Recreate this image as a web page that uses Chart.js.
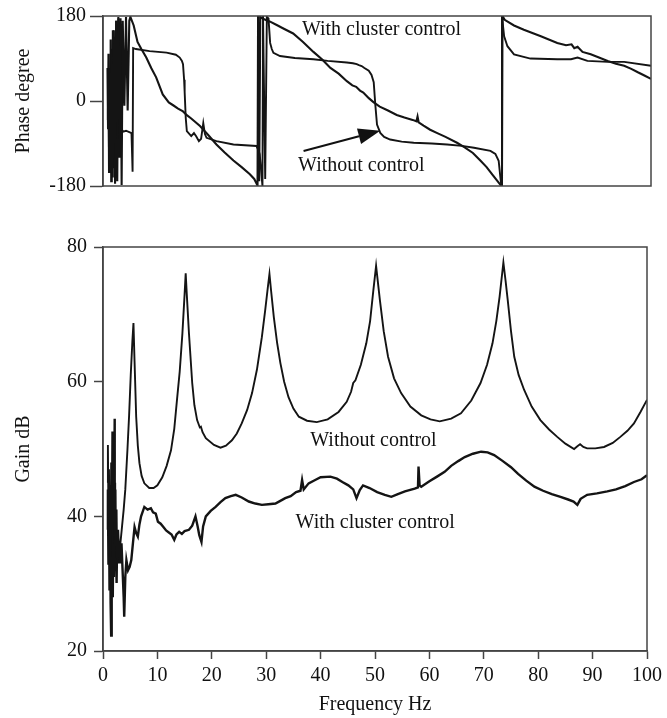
<!DOCTYPE html>
<html>
<head>
<meta charset="utf-8">
<script src="https://cdn.jsdelivr.net/npm/chart.js@4.4.1/dist/chart.umd.min.js"></script>
<style>
  html, body { margin: 0; padding: 0; background: #ffffff; }
  #wrap { position: relative; width: 667px; height: 718px; background: #fff; }
  canvas { position: absolute; left: 0; }
  #phase { top: 0; }
  #gain { top: 200px; }
</style>
</head>
<body>
<div id="wrap">
  <canvas id="phase" width="667" height="202"></canvas>
  <canvas id="gain" width="667" height="518"></canvas>
</div>
<script>
// ---------------- DATA (frequency Hz, value) ----------------
const freqTicks = [0, 10, 20, 30, 40, 50, 60, 70, 80, 90, 100];
const phaseTicks = [-180, 0, 180];
const gainTicks = [20, 40, 60, 80];

// Phase, without control (step-like curve)
const phaseWithout = [
  [0.8,70],[0.9,-60],[1.0,40],[1.1,-130],[1.2,20],[1.3,-150],[1.4,60],[1.5,-100],[1.6,110],[1.7,-160],
  [1.8,80],[1.9,-120],[2.0,150],[2.2,-90],[2.4,170],[2.6,-60],[2.8,175],[3.0,-80],[3.2,120],[3.4,-60],
  [3.7,-65],[4.2,-63],[4.8,-66],[5.2,-68],[5.4,-150],[5.5,112],[6.0,110],[8.5,105.7],[11.6,102.4],[13.3,98],
  [14.0,92],[14.4,85],[14.6,78],[14.8,45],[14.9,19],[15.1,-36],[15.3,-64],[16.1,-74.5],[16.6,-68],[17.0,-74.5],
  [17.5,-85],[17.9,-80],[18.3,-47],[18.6,-70],[18.9,-78],[20.7,-85],[23.8,-92],[28.0,-95.3],[28.4,-105],[28.6,-112.8],
  [28.9,-154],[29.1,-180],[29.2,180],[29.6,-165],[29.9,178],[30.2,175],[30.5,123],[30.8,110],[31.1,102],[32.3,95.3],
  [35,91],[38.4,88.4],[41,85],[44.5,81.6],[45.6,80],[46.3,78],[46.7,76],[47.2,74],[47.7,70],[48.5,64],
  [49.0,55],[49.4,40],[49.7,-9],[50.0,-50],[50.6,-67.6],[51.3,-76],[52.4,-81.6],[54.5,-86],[56.7,-88.4],[60,-90],
  [62.8,-92],[65.5,-95],[67.7,-99],[70.7,-105.7],[71.6,-112],[72.2,-126.5],[72.5,-160],[72.7,-180],[72.8,180],[73.2,137],
  [73.8,116],[75.0,98.8],[78.0,89.9],[82.9,88.4],[85.4,88.4],[86.6,92],[88.4,84.9],[92.1,82.8],[95.1,82.8],[100,74.5]
];

// Phase, with cluster control (nearly linear curve)
const phaseWith = [
  [0.9,-40],[1.0,100],[1.1,-150],[1.2,50],[1.3,-100],[1.4,130],[1.5,-170],[1.6,80],[1.7,-140],[1.8,150],
  [1.9,-110],[2.0,120],[2.2,-175],[2.4,170],[2.6,-170],[2.8,178],[3.0,-120],[3.2,175],[3.4,-178],[3.6,170],
  [3.9,-10],[4.2,178],[4.5,-20],[4.8,170],[5.0,178],[5.6,160],[6.3,125],[7.0,110],[7.9,92],[8.8,70],
  [9.7,50],[10.9,14],[12.0,-3],[12.8,-9],[13.7,-16],[14.6,-22],[15.3,-30],[16.1,-37],[16.9,-45],[17.7,-53],
  [19.2,-72],[20.7,-92],[22.2,-109],[23.8,-126],[25.3,-140],[26.8,-155],[27.6,-165],[28.2,-179],[28.3,180],[28.5,-170],
  [28.7,178],[29.2,174],[30.5,168],[31.7,161],[33,153],[34.7,143],[36.5,125],[38.4,104],[40,88],[41.5,70],
  [43,58],[44.5,42],[45.5,33],[46.2,30],[46.9,22],[47.5,18],[48.5,6],[49.4,-3],[50.5,-12],[52,-20],
  [53.6,-29.5],[55,-35],[56.5,-40],[57.2,-43],[57.4,-33],[57.6,-45],[58.5,-52],[59.7,-60.8],[61,-68],[62.5,-76],
  [64.6,-88.4],[66,-98],[67.5,-110],[68.9,-126.5],[70,-140],[71.2,-158],[72.6,-178.6],[72.8,-180],[72.9,180],[73.3,172],
  [75,160],[76.8,151],[79.9,137],[82.9,123],[84.5,118],[85.5,120],[86,112],[86.6,115],[87.5,104],[89.0,98.8],
  [90.5,92],[92.1,84.9],[93.6,79],[95.1,74.5],[96.4,68],[97.6,60.8],[98.8,54],[100,46.8]
];

// Gain, without control
const gainWithout = [
  [0.8,45],[0.9,50.6],[1.0,40],[1.1,47],[1.2,36],[1.3,44],[1.4,34],[1.5,48],[1.6,38],[1.7,52.6],
  [1.8,36],[1.9,46],[2.0,40],[2.1,54.5],[2.2,37],[2.3,44],[2.4,34],[2.5,41],[2.6,33],[2.8,38],
  [3.0,34],[3.2,36],[3.5,38.5],[3.8,41],[4.1,44],[4.5,50],[4.8,55],[5.1,61],[5.4,66],[5.6,68.7],
  [5.8,63],[6.1,54.8],[6.4,50.5],[6.7,47.9],[7.1,46],[7.6,44.9],[8.5,44.2],[9.3,44.2],[10,44.6],[10.9,45.8],
  [11.7,47.5],[12.5,49.8],[13.1,53],[13.6,57.3],[14.1,61.5],[14.6,67.2],[15.0,73],[15.2,76.1],[15.4,73],[15.8,67.2],
  [16.4,59.8],[16.8,56.5],[17.3,54.3],[17.8,53.2],[18.0,53.3],[18.3,52.5],[18.9,51.6],[20.4,50.6],[21.6,50.2],[22.6,50.5],
  [23.7,51.3],[24.6,52.3],[25.5,53.8],[26.5,55.8],[27.4,58.3],[28.3,61.8],[29.2,66.6],[29.8,70.5],[30.3,74],[30.6,76.0],
  [30.9,73.5],[31.4,69.6],[32.0,65.8],[32.6,62.8],[33.3,60],[34.1,57.7],[35.0,56],[36.0,54.8],[37.5,54.2],[39.3,54.0],
  [41.3,54.4],[43.3,55.5],[44.8,57],[45.6,58.5],[46.0,59.8],[46.4,60.2],[47.4,62.5],[48.4,65.7],[49.1,69],[49.7,73.6],
  [50.2,77.2],[50.5,75],[50.9,72.1],[51.6,67.5],[52.4,63.7],[53.5,60.5],[54.8,58.3],[56.5,56.3],[58.5,55.0],[60.2,54.4],
  [61.9,54.1],[64,54.5],[65.8,55.3],[67.7,57.2],[69.4,59.8],[70.6,62.5],[71.6,65.7],[72.3,69],[72.9,72.6],[73.6,77.7],
  [74.0,75],[74.4,72.1],[75.0,67.5],[75.6,63.7],[76.4,61],[77.4,58.8],[78.8,56.3],[80.4,54.3],[82,52.9],[83.5,51.8],
  [85,50.8],[86.6,50.0],[87.2,50.4],[87.7,50.7],[88.3,50.3],[89.0,50.1],[90.5,50.1],[92.1,50.3],[93.7,50.9],[95.1,51.8],
  [96.4,52.7],[97.6,53.8],[98.8,55.5],[100,57.3]
];

// Gain, with cluster control
const gainWith = [
  [0.8,38],[0.9,44],[1.0,33],[1.1,41],[1.2,29],[1.3,39],[1.4,27],[1.5,22.3],[1.6,34],[1.7,43],
  [1.8,28],[1.9,40],[2.0,31],[2.1,45],[2.2,33],[2.3,38],[2.5,30.1],[2.6,37],[2.8,33],[3.0,35.5],
  [3.2,33],[3.4,36],[3.6,32],[3.8,28],[3.9,25.1],[4.1,31],[4.3,33.5],[4.6,32],[4.9,32.5],[5.2,33.5],
  [5.5,36],[5.8,38.4],[6.1,37.5],[6.4,37.0],[6.7,38.8],[7.0,40.0],[7.6,41.4],[8.2,41.0],[8.8,41.2],[9.2,40.6],
  [9.7,40.4],[10.1,39.2],[10.6,38.9],[11.1,38.4],[11.6,37.9],[12.1,37.6],[12.6,37.3],[13.1,36.5],[13.5,37.3],[14.0,37.7],
  [14.5,37.4],[15.0,37.8],[15.8,38.0],[16.4,38.6],[17.0,40.0],[17.4,38.5],[17.7,37.2],[18.1,36.2],[18.4,38.5],[18.9,40.0],
  [19.8,40.8],[20.7,41.4],[21.6,42.1],[22.5,42.7],[23.5,43.0],[24.4,43.2],[25.5,42.8],[26.8,42.2],[28,41.9],[29.2,41.7],
  [30.4,41.8],[31.7,41.9],[32.6,42.3],[33.5,42.7],[34.5,43.0],[35.5,43.6],[36.3,43.8],[36.6,45.4],[36.9,44.0],[37.8,44.9],
  [39,45.4],[40,45.8],[41.8,45.9],[43,45.6],[44,45.1],[45.1,44.6],[46,44.0],[46.6,42.7],[47.2,43.9],[47.8,44.6],
  [49,44.2],[50.4,43.6],[51.8,43.2],[53.0,42.9],[54.2,43.3],[55.5,43.7],[57.3,44.1],[57.9,44.3],[58.0,47.4],[58.2,44.6],
  [58.5,44.4],[60,45.2],[61.4,45.9],[62.8,46.6],[64,47.5],[65.3,48.2],[66.5,48.8],[68,49.3],[69.5,49.6],[70.7,49.5],
  [71.9,49.1],[73.5,48.2],[75.0,47.3],[76.3,46.3],[77.8,45.3],[79.3,44.4],[80.9,43.8],[82.5,43.3],[84.1,42.9],[85.5,42.5],
  [86.5,42.2],[87.2,41.7],[87.8,42.6],[89.0,43.2],[90.8,43.4],[92.7,43.7],[94.3,44.0],[96,44.5],[97.6,45.1],[99,45.5],
  [100,46.1]
];

// Annotation texts (anchored in data coordinates: left edge x, vertical centre y)
const phaseNotes = [
  { text: 'With cluster control', x: 36.3, y: 151 },
  { text: 'Without control', x: 35.6, y: -138 }
];
const phaseArrow = { from: [36.6, -105.7], to: [50.6, -62.9] };
const gainNotes = [
  { text: 'Without control', x: 38.1, y: 51.2 },
  { text: 'With cluster control', x: 35.4, y: 39.0 }
];

// ---------------- STYLE ----------------
const FONT = "'Liberation Serif', 'Times New Roman', serif";
const AXIS_COLOR = '#444444';
const LINE_COLOR = '#141414';

const toXY = arr => arr.map(p => ({ x: p[0], y: p[1] }));

const framePlugin = {
  id: 'frame',
  afterDatasetsDraw(chart) {
    const { ctx, chartArea: a } = chart;
    ctx.save();
    ctx.strokeStyle = AXIS_COLOR;
    ctx.lineWidth = 1.5;
    ctx.strokeRect(a.left, a.top, a.right - a.left, a.bottom - a.top);
    ctx.restore();
  }
};

function notesPlugin(notes, arrow) {
  return {
    id: 'notes',
    afterDatasetsDraw(chart) {
      const { ctx } = chart;
      const xs = chart.scales.x, ys = chart.scales.y;
      ctx.save();
      ctx.fillStyle = '#111';
      ctx.font = '20px ' + FONT;
      ctx.textAlign = 'left';
      ctx.textBaseline = 'middle';
      notes.forEach(n => ctx.fillText(n.text, xs.getPixelForValue(n.x), ys.getPixelForValue(n.y)));
      if (arrow) {
        const x1 = xs.getPixelForValue(arrow.from[0]), y1 = ys.getPixelForValue(arrow.from[1]);
        const x2 = xs.getPixelForValue(arrow.to[0]), y2 = ys.getPixelForValue(arrow.to[1]);
        const ang = Math.atan2(y2 - y1, x2 - x1);
        const L = 22, W = 8;
        const bx = x2 - L * Math.cos(ang), by = y2 - L * Math.sin(ang);
        ctx.strokeStyle = '#111';
        ctx.lineWidth = 2;
        ctx.beginPath();
        ctx.moveTo(x1, y1);
        ctx.lineTo(bx, by);
        ctx.stroke();
        ctx.beginPath();
        ctx.moveTo(x2, y2);
        ctx.lineTo(bx + W * Math.sin(ang), by - W * Math.cos(ang));
        ctx.lineTo(bx - W * Math.sin(ang), by + W * Math.cos(ang));
        ctx.closePath();
        ctx.fill();
      }
      ctx.restore();
    }
  };
}

function lineDs(data, width) {
  return {
    data: toXY(data),
    borderColor: LINE_COLOR,
    borderWidth: width,
    pointRadius: 0,
    fill: false,
    tension: 0
  };
}

Chart.defaults.font.family = FONT;
Chart.defaults.color = '#111';

// ---------------- PHASE CHART ----------------
new Chart(document.getElementById('phase'), {
  type: 'line',
  data: { datasets: [lineDs(phaseWithout, 1.9), lineDs(phaseWith, 2.1)] },
  options: {
    responsive: false,
    animation: false,
    devicePixelRatio: 1,
    layout: { padding: { top: 16, right: 16, bottom: 13, left: 0 } },
    plugins: { legend: { display: false }, tooltip: { enabled: false } },
    scales: {
      x: { type: 'linear', min: 0, max: 100, display: false },
      y: {
        type: 'linear', min: -180, max: 180,
        afterBuildTicks: s => { s.ticks = phaseTicks.map(v => ({ value: v })); },
        afterFit: s => { s.width = 103; },
        ticks: { font: { size: 20, family: FONT }, color: '#111', padding: 4 },
        grid: { drawOnChartArea: false, drawTicks: true, tickLength: 13, color: AXIS_COLOR, tickWidth: 1.5 },
        border: { display: true, color: AXIS_COLOR, width: 1.5 },
        title: { display: true, text: 'Phase degree', font: { size: 20, family: FONT }, color: '#111', padding: { top: 12, bottom: 0 } }
      }
    }
  },
  plugins: [framePlugin, notesPlugin(phaseNotes, phaseArrow)]
});

// ---------------- GAIN CHART ----------------
new Chart(document.getElementById('gain'), {
  type: 'line',
  data: { datasets: [lineDs(gainWithout, 1.9), lineDs(gainWith, 2.4)] },
  options: {
    responsive: false,
    animation: false,
    devicePixelRatio: 1,
    layout: { padding: { top: 47, right: 16, bottom: 0, left: 0 } },
    plugins: { legend: { display: false }, tooltip: { enabled: false } },
    scales: {
      x: {
        type: 'linear', min: 0, max: 100,
        afterBuildTicks: s => { s.ticks = freqTicks.map(v => ({ value: v })); },
        afterFit: s => { s.height = 67; },
        ticks: { font: { size: 20, family: FONT }, color: '#111', padding: 5, maxRotation: 0 },
        grid: { drawOnChartArea: false, drawTicks: true, tickLength: 8, color: AXIS_COLOR, tickWidth: 1.5 },
        border: { display: true, color: AXIS_COLOR, width: 1.5 },
        title: { display: true, text: 'Frequency Hz', font: { size: 20, family: FONT }, color: '#111', padding: { top: 0, bottom: 1 } }
      },
      y: {
        type: 'linear', min: 20, max: 80,
        afterBuildTicks: s => { s.ticks = gainTicks.map(v => ({ value: v })); },
        afterFit: s => { s.width = 103; },
        ticks: { font: { size: 20, family: FONT }, color: '#111', padding: 7 },
        grid: { drawOnChartArea: false, drawTicks: true, tickLength: 9, color: AXIS_COLOR, tickWidth: 1.5 },
        border: { display: true, color: AXIS_COLOR, width: 1.5 },
        title: { display: true, text: 'Gain dB', font: { size: 20, family: FONT }, color: '#111', padding: { top: 12, bottom: 0 } }
      }
    }
  },
  plugins: [framePlugin, notesPlugin(gainNotes)]
});
</script>
</body>
</html>
